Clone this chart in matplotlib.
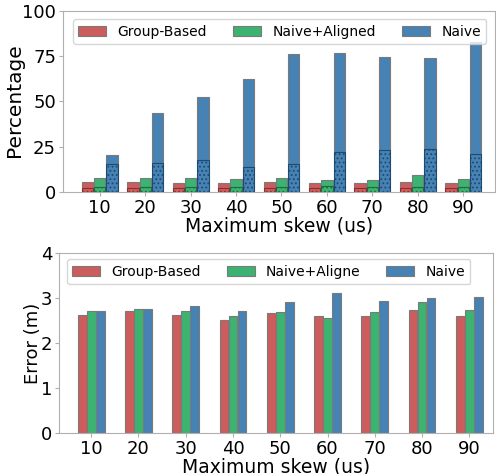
import numpy as np
import matplotlib.pyplot as plt

skews = ['10', '20', '30', '40', '50', '60', '70', '80', '90']
series = ['Group-Based', 'Naive+Aligned', 'Naive']

# top chart: total percentage and the hatched (lower) part
pct_group = [5.3, 5.3, 5.1, 4.9, 5.3, 5.1, 5.1, 5.7, 5.1]
pct_group_low = [2.4, 2.4, 2.4, 2.4, 2.4, 2.4, 2.4, 2.4, 2.4]
pct_aligned = [7.7, 7.9, 7.7, 7.0, 7.5, 6.6, 6.6, 9.5, 7.0]
pct_aligned_low = [2.7, 2.7, 2.7, 2.7, 2.7, 3.5, 2.7, 2.7, 2.7]
pct_naive = [20.3, 43.4, 52.2, 62.6, 76.0, 76.6, 74.7, 74.2, 83.0]
pct_naive_low = [15.4, 15.9, 17.6, 13.9, 15.4, 22.0, 23.1, 23.6, 20.9]

# bottom chart: error in metres
err_group = [2.61, 2.72, 2.61, 2.51, 2.66, 2.59, 2.59, 2.74, 2.60]
err_aligned = [2.72, 2.75, 2.71, 2.59, 2.68, 2.56, 2.68, 2.90, 2.74]
err_naive = [2.72, 2.76, 2.82, 2.71, 2.90, 3.10, 2.94, 2.99, 3.03]

colors = ['#cd5c5c', '#3cb371', '#4682b4']
dark = ['#8b2e2e', '#1e6b40', '#1f4a70']
spine_c = '#b0b0b0'

plt.rcParams['hatch.linewidth'] = 0.8

fig = plt.figure(figsize=(4.96, 4.74), dpi=100)
ax1 = fig.add_axes([0.127, 0.595, 0.871, 0.382])
ax2 = fig.add_axes([0.119, 0.0865, 0.875, 0.38])

x = np.arange(len(skews))

# ---- top
w = 0.25
tops = [pct_group, pct_aligned, pct_naive]
lows = [pct_group_low, pct_aligned_low, pct_naive_low]
for i in range(3):
    pos = x + (i - 1) * (w + 0.02)
    low = np.array(lows[i])
    top = np.array(tops[i])
    ax1.bar(pos, top - low, w, bottom=low, color=colors[i],
            edgecolor='#7a7a7a', linewidth=0.8, label=series[i])
    ax1.bar(pos, low, w, color=colors[i], edgecolor=dark[i],
            linewidth=0.8, hatch='....')

ax1.set_ylim(0, 100)
ax1.set_yticks([0, 25, 50, 75, 100])
ax1.set_xlim(-0.81, 8.7)
ax1.set_xticks(x)
ax1.set_xticklabels(skews)
ax1.set_ylabel('Percentage', fontsize=14.5)
ax1.yaxis.set_label_coords(-0.09, 0.51)
ax1.set_xlabel('Maximum skew (us)', fontsize=13.5, labelpad=0)
ax1.legend(ncol=3, mode='expand', loc='upper left',
           bbox_to_anchor=(0.023, 0.955, 0.957, 0.0), fontsize=10,
           handlelength=2.0, borderaxespad=0)

# ---- bottom
w2 = 0.185
errs = [err_group, err_aligned, err_naive]
labels2 = ['Group-Based', 'Naive+Aligne', 'Naive']
for i in range(3):
    pos = x + (i - 1) * (w2 + 0.005)
    ax2.bar(pos, errs[i], w2, color=colors[i], edgecolor='#7a7a7a',
            linewidth=0.8, label=labels2[i])

ax2.set_ylim(0, 4)
ax2.set_yticks([0, 1, 2, 3, 4])
ax2.set_xlim(-0.68, 8.5)
ax2.set_xticks(x)
ax2.set_xticklabels(skews)
ax2.set_ylabel('Error (m)', fontsize=13)
ax2.yaxis.set_label_coords(-0.039, 0.5)
ax2.set_xlabel('Maximum skew (us)', fontsize=13.5, labelpad=0)
ax2.legend(ncol=3, mode='expand', loc='upper left',
           bbox_to_anchor=(0.018, 0.965, 0.93, 0.0), fontsize=10,
           handlelength=2.0, borderaxespad=0)

for ax in (ax1, ax2):
    for s in ax.spines.values():
        s.set_color(spine_c)
    ax.tick_params(axis='both', labelsize=13, color=spine_c, pad=2, length=3)

fig.savefig('out.png', dpi=100)
